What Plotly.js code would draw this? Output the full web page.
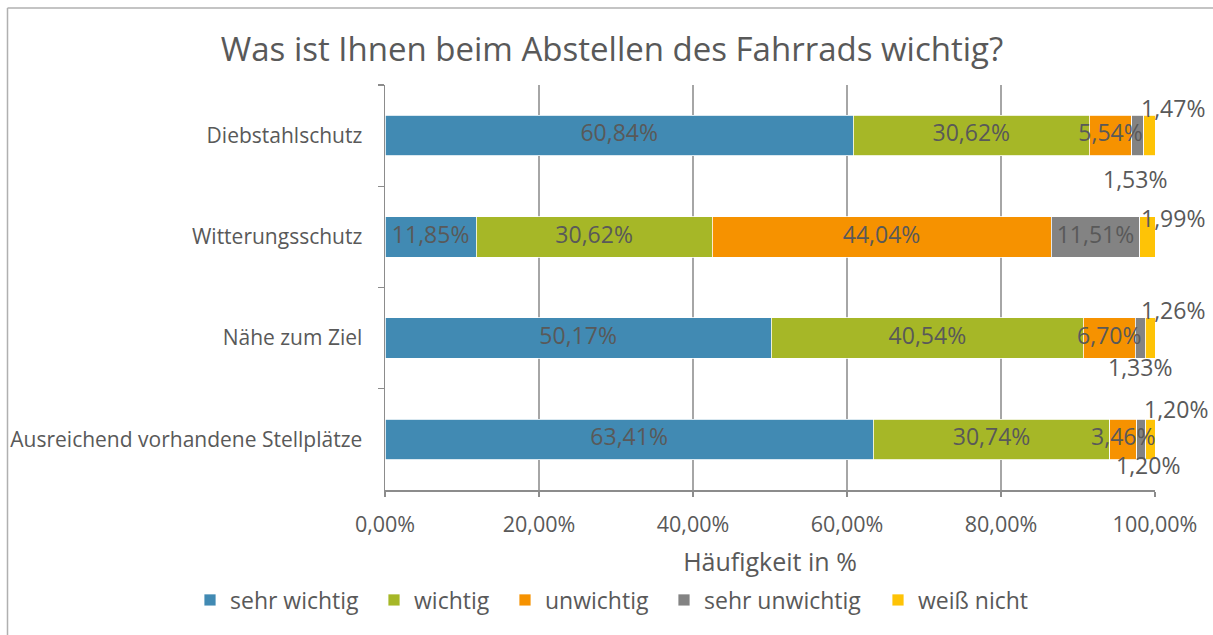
<!DOCTYPE html>
<html>
<head>
<meta charset="utf-8">
<script src="https://cdn.plot.ly/plotly-3.0.1.min.js"></script>
<style>
html,body{margin:0;padding:0;background:#fff;}
#chart{width:1213px;height:635px;}
</style>
</head>
<body>
<div id="chart"></div>
<script>
// ---- data ----
const categories = ["Diebstahlschutz", "Witterungsschutz", "Nähe zum Ziel", "Ausreichend vorhandene Stellplätze"];
const seriesNames = ["sehr wichtig", "wichtig", "unwichtig", "sehr unwichtig", "weiß nicht"];
const sehrWichtig   = [60.84, 11.85, 50.17, 63.41];
const wichtig       = [30.62, 30.62, 40.54, 30.74];
const unwichtig     = [5.54, 44.04, 6.70, 3.46];
const sehrUnwichtig = [1.53, 11.51, 1.33, 1.20];
const weissNicht    = [1.47, 1.99, 1.26, 1.20];
const xTickValues   = [0, 20, 40, 60, 80, 100];

// ---- styling ----
const colors = ["#418AB3", "#A6B727", "#F69200", "#838383", "#FEC306"];
const FONT = "'Open Sans', 'Noto Sans', sans-serif";
const TXT = "#595959";
const GRID = "#a6a6a6";
const AXIS = "#8c8c8c";
// pixel offsets [xshift, yshift] for labels of small segments
const yellowLabelShift = [[24, 28], [26, 19], [23, 28], [26, 30]];
const grayLabelShift   = [[-3, -43], null, [0, -29], [7, -26]];
// left pixel of each legend entry's swatch
const legendSwatchX = [204, 388, 519, 678, 892];

const series = [sehrWichtig, wichtig, unwichtig, sehrUnwichtig, weissNicht];
const fmt = v => v.toFixed(2).replace(".", ",") + "%";
const legendIds = ["legend", "legend2", "legend3", "legend4", "legend5"];

const traces = series.map((vals, i) => ({
  type: "bar",
  orientation: "h",
  name: seriesNames[i],
  legend: legendIds[i],
  y: categories,
  x: vals,
  marker: {color: colors[i], line: {color: "#ffffff", width: 0.8}},
  hoverinfo: "x+name"
}));

const LBL = 23;
// inside labels via a text scatter on top of bars
const tx = [], ty = [], tt = [];
const annotations = [];
categories.forEach((c, k) => {
  let cum = 0;
  series.forEach((vals, i) => {
    const v = vals[k];
    const mid = cum + v / 2;
    if (i < 3 || (i === 3 && !grayLabelShift[k])) {
      tx.push(mid); ty.push(c); tt.push(fmt(v));
    } else {
      const s = i === 3 ? grayLabelShift[k] : yellowLabelShift[k];
      annotations.push({x: mid, y: c, xref: "x", yref: "y", text: fmt(v), showarrow: false,
        xshift: s[0], yshift: s[1],
        font: {family: FONT, size: LBL, color: TXT}});
    }
    cum += v;
  });
});
traces.push({
  type: "scatter", mode: "text", x: tx, y: ty, text: tt,
  textposition: "middle center",
  textfont: {family: FONT, size: LBL, color: TXT},
  showlegend: false, hoverinfo: "skip", cliponaxis: false
});

// chart border (left + top), in plot-paper coordinates
const L = 385, R = 58, T = 85, B = 145, W = 1213, H = 635;
const pw = W - L - R, ph = H - T - B;
const px = p => (p - L) / pw;
const py = p => (H - B - p) / ph;
const shapes = [
  {type: "line", xref: "paper", yref: "paper", x0: px(7.5), x1: px(7.5), y0: py(8), y1: py(640), line: {color: "#b0b0b0", width: 1.5}},
  {type: "line", xref: "paper", yref: "paper", x0: px(7.5), x1: px(1220), y0: py(8), y1: py(8), line: {color: "#b0b0b0", width: 1.5}}
];

const layout = {
  width: W, height: H,
  margin: {l: L, r: R, t: T, b: B, pad: 0, autoexpand: false},
  paper_bgcolor: "#ffffff", plot_bgcolor: "#ffffff",
  separators: ",.",
  barmode: "stack",
  bargap: 0.6,
  font: {family: FONT, color: TXT},
  title: {text: "Was ist Ihnen beim Abstellen des Fahrrads wichtig?",
    font: {family: FONT, size: 33, color: TXT},
    x: 612 / 1213, xref: "container", xanchor: "center",
    y: 1 - 49 / 635, yref: "container", yanchor: "middle"},
  xaxis: {
    range: [0, 100], tickvals: xTickValues, ticktext: xTickValues.map(fmt),
    showgrid: true, gridcolor: GRID, gridwidth: 1.3,
    showline: true, linecolor: AXIS, linewidth: 1.5,
    ticks: "outside", ticklen: 5, tickcolor: AXIS, tickwidth: 1.3,
    ticklabelstandoff: 10,
    tickfont: {family: FONT, size: 21.5, color: TXT},
    zeroline: false, automargin: true,
    title: {text: "Häufigkeit in %", font: {family: FONT, size: 25, color: TXT}, standoff: 17}
  },
  yaxis: {
    type: "category", range: [categories.length - 0.5, -0.5],
    showline: true, linecolor: AXIS, linewidth: 1.5,
    ticks: "outside", tickson: "boundaries", ticklen: 6, tickcolor: AXIS, tickwidth: 1.3,
    ticklabelstandoff: 17,
    tickfont: {family: FONT, size: 21, color: TXT},
    showgrid: false, zeroline: false, automargin: false
  },
  annotations: annotations,
  shapes: shapes,
  showlegend: true
};
legendIds.forEach((id, i) => {
  layout[id] = {
    orientation: "h", xref: "container", yref: "container",
    x: (legendSwatchX[i] - 14) / W, xanchor: "left", y: 1 - 600 / H, yanchor: "middle",
    font: {family: FONT, size: 23, color: TXT},
    bgcolor: "rgba(0,0,0,0)", borderwidth: 0,
    itemclick: false
  };
});

Plotly.newPlot("chart", traces, layout, {displayModeBar: false, staticPlot: true});
</script>
</body>
</html>
